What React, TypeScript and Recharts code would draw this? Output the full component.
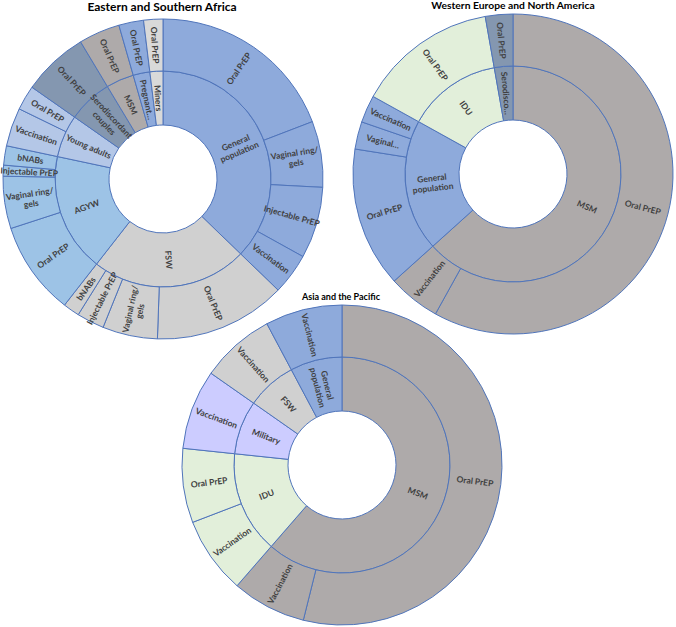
import { PieChart, Pie, Cell } from 'recharts'

// Eastern and Southern Africa
const esaGroups = ['General\npopulation', 'FSW', 'AGYW', 'Young adults', 'Serodiscordant\ncouples', 'MSM', 'Pregnant…', 'Miners']
const esaGroupValues = [134, 84, 64, 23, 24, 15, 9, 7]
const esaItems = [
  'Oral PrEP', 'Vaginal ring/\ngels', 'Injectable PrEP', 'Vaccination',
  'Oral PrEP', 'Vaginal ring/\ngels', 'Injectable PrEP', 'bNABs',
  'Oral PrEP', 'Vaginal ring/\ngels', 'Injectable PrEP', 'bNABs',
  'Vaccination', 'Oral PrEP',
  'Oral PrEP', 'Oral PrEP', 'Oral PrEP', 'Oral PrEP',
]
const esaItemValues = [69, 24, 26, 15, 48, 20, 10, 6, 34, 19, 4, 7, 14, 9, 24, 15, 9, 7]
const esaItemParents = [0, 0, 0, 0, 1, 1, 1, 1, 2, 2, 2, 2, 3, 3, 4, 5, 6, 7]

// Western Europe and North America
const wenaGroups = ['MSM', 'General\npopulation', 'IDU', 'Serodisco…']
const wenaGroupValues = [228, 71, 51, 10]
const wenaItems = ['Oral PrEP', 'Vaccination', 'Oral PrEP', 'Vaginal…', 'Vaccination', 'Oral PrEP', 'Oral PrEP']
const wenaItemValues = [209, 19, 51, 10, 10, 51, 10]
const wenaItemParents = [0, 0, 1, 1, 1, 2, 3]

// Asia and the Pacific
const apGroups = ['MSM', 'IDU', 'Military', 'FSW', 'General\npopulation']
const apGroupValues = [221, 55, 29, 27, 28]
const apItems = ['Oral PrEP', 'Vaccination', 'Vaccination', 'Oral PrEP', 'Vaccination', 'Vaccination', 'Vaccination']
const apItemValues = [194, 27, 28, 27, 29, 27, 28]
const apItemParents = [0, 0, 1, 1, 2, 3, 4]

const groupColors: Record<string, string> = {
  'General\npopulation': '#8eaadb',
  FSW: '#d0d0d0',
  AGYW: '#9dc3e6',
  'Young adults': '#b4c7e7',
  'Serodiscordant\ncouples': '#8497b0',
  MSM: '#aeaaaa',
  'Pregnant…': '#8eaadb',
  Miners: '#d9d9d9',
  IDU: '#e2efda',
  'Serodisco…': '#8497b0',
  Military: '#ccccff',
}

const STROKE = '#5075bb'
const R0 = 54
const R1 = 108
const R2 = 160

function renderLabel(props: any) {
  const { cx, cy, midAngle, innerRadius, outerRadius, name } = props
  const r = (innerRadius + outerRadius) / 2
  const rad = (midAngle * Math.PI) / 180
  const x = cx + r * Math.cos(rad)
  const y = cy - r * Math.sin(rad)
  const theta = (((90 - midAngle) % 360) + 360) % 360
  const rot = theta < 180 ? theta - 90 : theta - 270
  const lines = String(name).split('\n')
  const lh = 10
  return (
    <text
      x={x}
      y={y}
      transform={`rotate(${rot} ${x} ${y})`}
      textAnchor="middle"
      dominantBaseline="central"
      fill="#404040"
      fontSize={8.5}
      fontWeight={700}
      fontFamily="Lato, sans-serif"
    >
      {lines.map((l, i) => (
        <tspan key={i} x={x} dy={i === 0 ? (-(lines.length - 1) * lh) / 2 : lh}>
          {l}
        </tspan>
      ))}
    </text>
  )
}

function Sunburst({ cx, cy, groups, groupValues, items, itemValues, itemParents }: any) {
  const inner = groups.map((g: string, i: number) => ({ name: g, value: groupValues[i] }))
  const outer = items.map((it: string, i: number) => ({ name: it, value: itemValues[i], parent: groups[itemParents[i]] }))
  return [
    <Pie
      key="inner"
      data={inner}
      dataKey="value"
      nameKey="name"
      cx={cx}
      cy={cy}
      innerRadius={R0}
      outerRadius={R1}
      startAngle={90}
      endAngle={-270}
      stroke={STROKE}
      strokeWidth={1}
      label={renderLabel}
      labelLine={false}
      isAnimationActive={false}
    >
      {inner.map((d: any, i: number) => (
        <Cell key={i} fill={groupColors[d.name]} />
      ))}
    </Pie>,
    <Pie
      key="outer"
      data={outer}
      dataKey="value"
      nameKey="name"
      cx={cx}
      cy={cy}
      innerRadius={R1}
      outerRadius={R2}
      startAngle={90}
      endAngle={-270}
      stroke={STROKE}
      strokeWidth={1}
      label={renderLabel}
      labelLine={false}
      isAnimationActive={false}
    >
      {outer.map((d: any, i: number) => (
        <Cell key={i} fill={groupColors[d.parent]} />
      ))}
    </Pie>,
  ]
}

const titleStyle = (left: number, top: number, size: number): React.CSSProperties => ({
  position: 'absolute',
  left: left - 150,
  top,
  width: 300,
  textAlign: 'center',
  fontFamily: 'Lato, sans-serif',
  fontWeight: 700,
  fontSize: size,
  lineHeight: '14px',
  color: '#000',
})

export default function App() {
  return (
    <div style={{ position: 'absolute', left: 0, top: 0, width: 676, height: 627, background: '#fff' }}>
      <PieChart width={676} height={627} margin={{ top: 0, right: 0, bottom: 0, left: 0 }}>
        {Sunburst({ cx: 163, cy: 179, groups: esaGroups, groupValues: esaGroupValues, items: esaItems, itemValues: esaItemValues, itemParents: esaItemParents })}
        {Sunburst({ cx: 513, cy: 174, groups: wenaGroups, groupValues: wenaGroupValues, items: wenaItems, itemValues: wenaItemValues, itemParents: wenaItemParents })}
        {Sunburst({ cx: 342, cy: 465, groups: apGroups, groupValues: apGroupValues, items: apItems, itemValues: apItemValues, itemParents: apItemParents })}
      </PieChart>
      <div style={titleStyle(162, 0, 12)}>Eastern and Southern Africa</div>
      <div style={titleStyle(513, -2, 10.3)}>Western Europe and North America</div>
      <div style={titleStyle(341, 290, 9)}>Asia and the Pacific</div>
    </div>
  )
}
